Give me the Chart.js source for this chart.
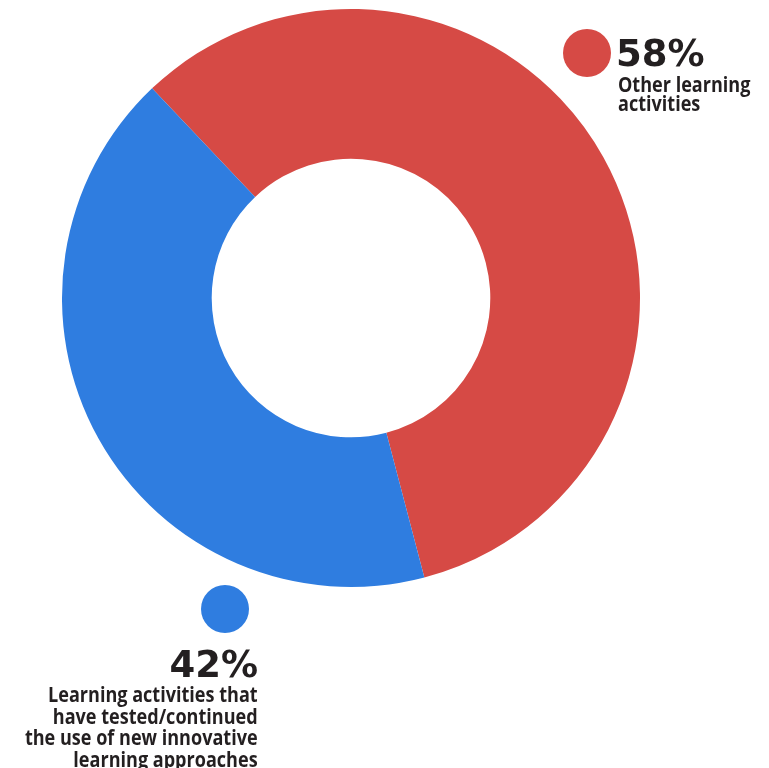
<!DOCTYPE html>
<html>
<head>
<meta charset="utf-8">
<script src="https://cdn.jsdelivr.net/npm/chart.js@4/dist/chart.umd.min.js"></script>
<style>
    html, body { margin: 0; padding: 0; background: #fff; }
    #wrap { position: relative; width: 769px; height: 768px; overflow: hidden; }
    #chart { position: absolute; left: 0; top: 0; }
    .dot { position: absolute; width: 48px; height: 48px; border-radius: 50%; }
    .pct, .txt { position: absolute; color: #231f20; white-space: nowrap; }
    .pct { font-family: "DejaVu Sans", sans-serif; font-weight: 700; font-size: 37px; line-height: 37px; }
    .txt { font-family: "Open Sans", sans-serif; font-weight: 750; font-size: 21px; transform: scaleX(0.86); }
    #pct-other { left: 616px; top: 35px; }
    #txt-other { left: 618px; top: 75px; line-height: 19.4px; transform-origin: left top; }
    #pct-innov { right: 511px; top: 646px; text-align: right; }
    #txt-innov { right: 511px; top: 684px; line-height: 21.5px; text-align: right; transform-origin: right top; }
</style>
</head>
<body>
<div id="wrap">
    <canvas id="chart" width="769" height="768"></canvas>
    <div class="dot" id="dot-other" style="left:563px; top:29px;"></div>
    <div class="dot" id="dot-innov" style="left:201px; top:585px;"></div>
    <div class="pct" id="pct-other"></div>
    <div class="txt" id="txt-other"></div>
    <div class="pct" id="pct-innov"></div>
    <div class="txt" id="txt-innov"></div>
</div>
<script>
// Share of learning activities
const categories = [
    'Other learning<br>activities',
    'Learning activities that<br>have tested/continued<br>the use of new innovative<br>learning approaches'
];
const shares = [58, 42];
const colors = ['#d64a45', '#2f7de0'];

document.addEventListener('DOMContentLoaded', () => {
    renderDonut();
    fillLabels();
});

function renderDonut() {
    const ctx = document.getElementById('chart').getContext('2d');

    window.shareChart = new Chart(ctx, {
        type: 'doughnut',
        data: {
            labels: categories,
            datasets: [{
                data: shares,
                backgroundColor: colors,
                borderWidth: 0
            }]
        },
        options: {
            responsive: false,
            animation: false,
            cutout: '48.2%',
            rotation: -43.5,
            layout: {
                padding: { left: 62, right: 129, top: 9, bottom: 181 }
            },
            plugins: {
                legend: { display: false },
                tooltip: { enabled: false }
            }
        }
    });
}

function fillLabels() {
    const ids = ['other', 'innov'];
    ids.forEach((id, i) => {
        document.getElementById('dot-' + id).style.background = colors[i];
        document.getElementById('pct-' + id).textContent = shares[i] + '%';
        document.getElementById('txt-' + id).innerHTML = categories[i];
    });
}
</script>
</body>
</html>
